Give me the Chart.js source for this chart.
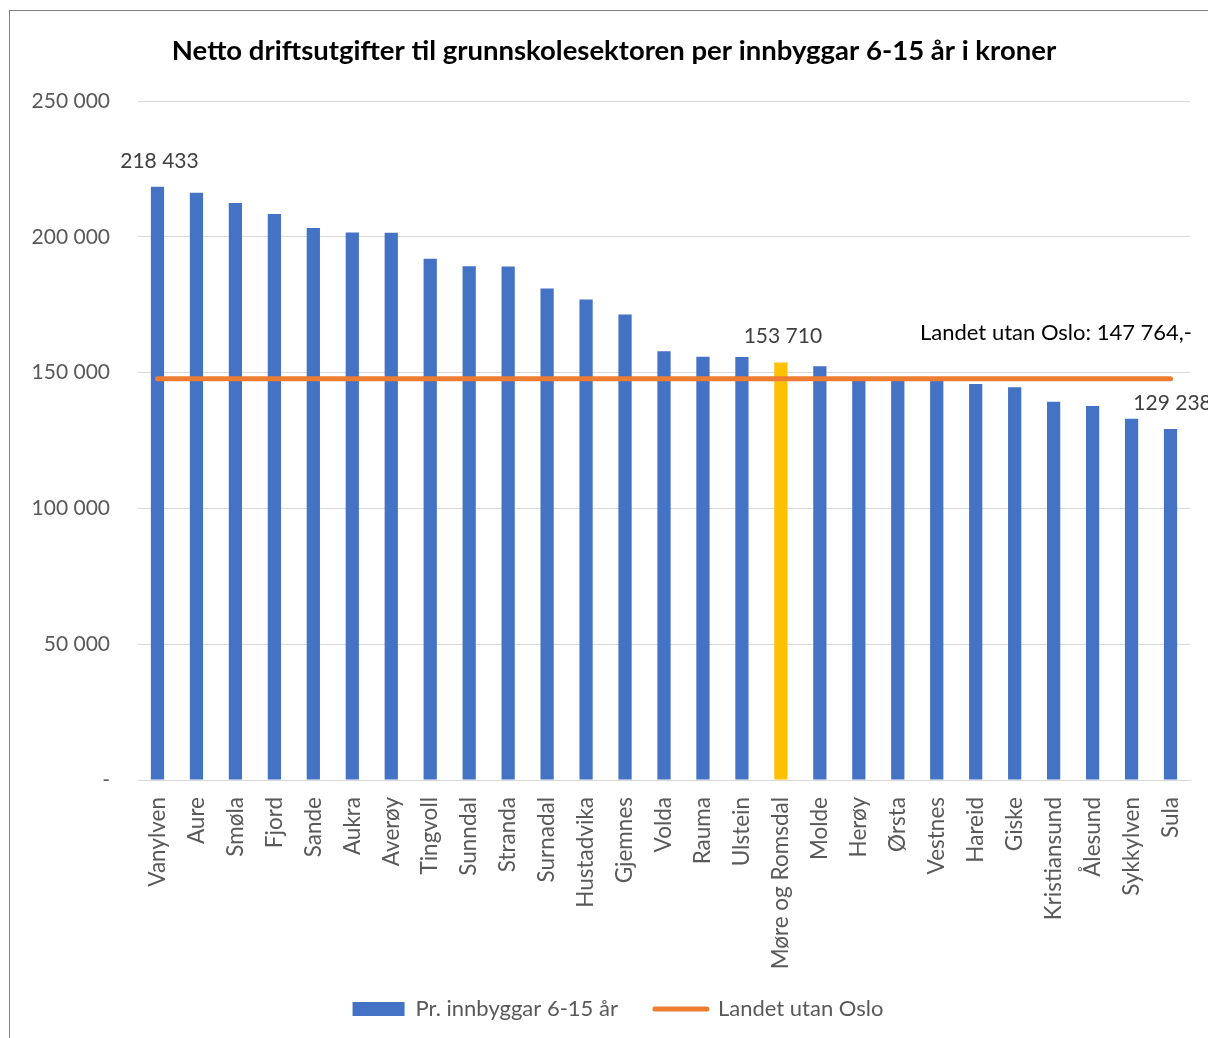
<!DOCTYPE html>
<html>
<head>
<meta charset="utf-8">
<script src="https://cdn.jsdelivr.net/npm/chart.js@4.4.0/dist/chart.umd.min.js"></script>
<style>
  html, body { margin: 0; padding: 0; background: #fff; overflow: hidden; }
  #wrap { position: relative; width: 1208px; height: 1038px; }
  #frame { position: absolute; left: 9px; top: 10px; right: 0; bottom: 0;
           border-left: 1px solid #808080; border-top: 1px solid #808080; pointer-events: none; }
  canvas { position: absolute; left: 0; top: 0; }
</style>
</head>
<body>
<div id="wrap">
  <canvas id="chart" width="1208" height="1038"></canvas>
  <div id="frame"></div>
</div>
<script>
const categories = [
  "Vanylven", "Aure", "Smøla", "Fjord", "Sande", "Aukra", "Averøy", "Tingvoll",
  "Sunndal", "Stranda", "Surnadal", "Hustadvika", "Gjemnes", "Volda", "Rauma",
  "Ulstein", "Møre og Romsdal", "Molde", "Herøy", "Ørsta", "Vestnes", "Hareid",
  "Giske", "Kristiansund", "Ålesund", "Sykkylven", "Sula"
];
const perInnbyggar = [
  218433, 216200, 212400, 208400, 203200, 201600, 201500, 191900,
  189200, 189100, 181000, 176900, 171400, 157900, 155800,
  155700, 153710, 152300, 147600, 147400, 147000, 145800,
  144600, 139300, 137700, 133000, 129238
];
const landetUtanOslo = 147764;
const highlighted = "Møre og Romsdal";
const labelledCategories = ["Vanylven", "Møre og Romsdal", "Sula"];
const yTicks = [0, 50000, 100000, 150000, 200000, 250000];

const BLUE = "#4472C4";
const GOLD = "#FFC000";
const ORANGE = "#ED7D31";
const FONT = "Lato, Carlito, 'Open Sans', sans-serif";

function fmt(v) {
  if (v === 0) return "-";
  return String(v).replace(/\B(?=(\d{3})+(?!\d))/g, " ");
}

// value labels over a few bars + the note for the national line
const labelsPlugin = {
  id: "valueLabels",
  afterLayout(chart) {
    // title and legend sit a bit right of the canvas centre in the original
    chart.titleBlock.left += 19;
    chart.titleBlock.right += 19;
    chart.legend.left += 23;
    chart.legend.right += 23;
  },
  afterDatasetsDraw(chart) {
    const ctx = chart.ctx;
    const meta = chart.getDatasetMeta(0);
    ctx.save();
    ctx.font = "21px " + FONT;
    ctx.fillStyle = "#404040";
    ctx.textAlign = "center";
    ctx.textBaseline = "middle";
    labelledCategories.forEach((name) => {
      const i = categories.indexOf(name);
      const bar = meta.data[i];
      ctx.fillText(fmt(perInnbyggar[i]), bar.x + 2, bar.y - 26);
    });
    const y = chart.scales.y.getPixelForValue(landetUtanOslo);
    ctx.font = "22px " + FONT;
    ctx.fillStyle = "#000";
    ctx.textAlign = "right";
    ctx.fillText("Landet utan Oslo: " + fmt(landetUtanOslo) + ",-", chart.chartArea.right + 2, y - 46);
    ctx.restore();
  }
};

new Chart(document.getElementById("chart"), {
  type: "bar",
  data: {
    labels: categories,
    datasets: [
      {
        label: "Pr. innbyggar 6-15 år\u2002",
        data: perInnbyggar,
        backgroundColor: categories.map((c) => (c === highlighted ? GOLD : BLUE)),
        barPercentage: 0.34,
        categoryPercentage: 1,
        order: 1,
      },
      {
        type: "line",
        label: "Landet utan Oslo",
        data: categories.map(() => landetUtanOslo),
        borderColor: ORANGE,
        backgroundColor: ORANGE,
        borderWidth: 5,
        borderCapStyle: "round",
        pointRadius: 0,
        order: 0,
      },
    ],
  },
  options: {
    responsive: false,
    animation: false,
    layout: { padding: { left: 0, right: 18, top: 0, bottom: 8 } },
    plugins: {
      title: {
        display: true,
        text: "Netto driftsutgifter til grunnskolesektoren per innbyggar 6-15 år i kroner",
        color: "#000",
        font: { family: FONT, size: 27.5, weight: "bold" },
        padding: { top: 35, bottom: 33 },
      },
      legend: {
        position: "bottom",
        labels: {
          color: "#595959",
          font: { family: FONT, size: 22 },
          usePointStyle: true,
          pointStyleWidth: 52,
          boxHeight: 14,
          padding: 26,
          generateLabels(chart) {
            const items = Chart.defaults.plugins.legend.labels.generateLabels(chart);
            items.sort((a, b) => a.datasetIndex - b.datasetIndex);
            items[0].pointStyle = "rect";
            items[0].fillStyle = BLUE;
            items[0].strokeStyle = BLUE;
            items[0].lineWidth = 0;
            items[1].pointStyle = "line";
            items[1].strokeStyle = ORANGE;
            items[1].lineWidth = 5;
            items[1].lineCap = "round";
            return items;
          },
        },
      },
      tooltip: { enabled: false },
    },
    scales: {
      x: {
        grid: { display: false },
        border: { display: true, color: "#d9d9d9", width: 1 },
        ticks: {
          color: "#595959",
          font: { family: FONT, size: 22.5 },
          minRotation: 90,
          maxRotation: 90,
          autoSkip: false,
          padding: 9,
        },
        afterFit(scale) { scale.height = 192; },
      },
      y: {
        min: 0,
        max: 250000,
        border: { display: false },
        grid: { color: "#d9d9d9", lineWidth: 1, drawTicks: false },
        afterBuildTicks(scale) { scale.ticks = yTicks.map((v) => ({ value: v })); },
        ticks: {
          color: "#595959",
          font: { family: FONT, size: 21 },
          padding: 28,
          callback: (v) => fmt(v),
        },
        afterFit(scale) { scale.width = 138; },
      },
    },
  },
  plugins: [labelsPlugin],
});
</script>
</body>
</html>
